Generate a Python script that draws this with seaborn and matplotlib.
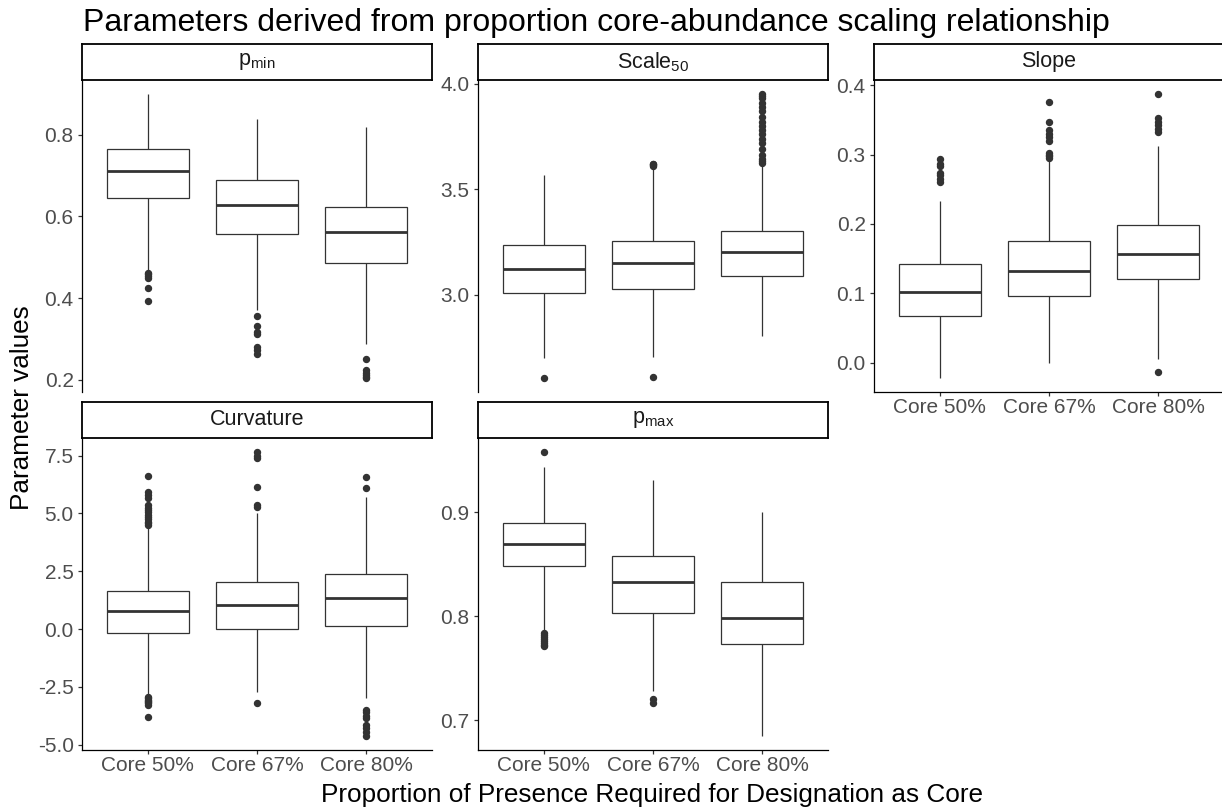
import numpy as np
import pandas as pd
import matplotlib
matplotlib.use("Agg")
import matplotlib.pyplot as plt
from matplotlib.ticker import FixedLocator, FormatStrFormatter
import seaborn as sns

# ---------------- data ----------------
groups = ["Core 50%", "Core 67%", "Core 80%"]

# five-number summaries per group: (lower whisker, Q1, median, Q3, upper whisker)
pmin_box = [(0.467, 0.644, 0.710, 0.765, 0.899),
            (0.372, 0.557, 0.629, 0.689, 0.839),
            (0.288, 0.485, 0.562, 0.624, 0.818)]
pmin_out = [[0.461, 0.458, 0.454, 0.450, 0.425, 0.394],
            [0.357, 0.332, 0.318, 0.312, 0.281, 0.272, 0.264],
            [0.252, 0.224, 0.218, 0.213, 0.208, 0.205]]

scale_box = [(2.703, 3.011, 3.125, 3.235, 3.568),
             (2.706, 3.027, 3.153, 3.255, 3.595),
             (2.806, 3.091, 3.201, 3.302, 3.610)]
scale_out = [[2.608],
             [2.611, 3.608, 3.613, 3.618, 3.620],
             [3.625, 3.635, 3.645, 3.66, 3.69, 3.72, 3.74, 3.76, 3.78, 3.80,
              3.82, 3.84, 3.87, 3.89, 3.91, 3.93, 3.94, 3.95]]

slope_box = [(-0.0217, 0.0675, 0.102, 0.143, 0.233),
             (0.000, 0.0966, 0.132, 0.175, 0.291),
             (0.006, 0.121, 0.157, 0.198, 0.313)]
slope_out = [[0.261, 0.265, 0.270, 0.274, 0.283, 0.287, 0.293],
             [0.295, 0.298, 0.300, 0.302, 0.320, 0.325, 0.330, 0.335, 0.347, 0.376],
             [-0.0126, 0.333, 0.337, 0.342, 0.347, 0.352, 0.387]]

curv_box = [(-2.85, -0.16, 0.79, 1.66, 4.38),
            (-2.72, 0.00, 1.06, 2.03, 5.01),
            (-3.00, 0.13, 1.33, 2.36, 5.70)]
curv_out = [[4.50, 4.58, 4.65, 4.75, 4.85, 4.95, 5.05, 5.15, 5.25, 5.35, 5.66, 5.80,
             5.94, 6.62, -2.95, -3.00, -3.05, -3.10, -3.15, -3.20, -3.30, -3.82],
            [-3.19, 5.30, 5.37, 6.13, 7.38, 7.48, 7.65],
            [6.11, 6.56, -3.50, -3.60, -3.75, -3.85, -4.15, -4.30, -4.45, -4.62]]

pmax_box = [(0.786, 0.848, 0.870, 0.890, 0.944),
            (0.728, 0.803, 0.833, 0.858, 0.931),
            (0.685, 0.773, 0.798, 0.833, 0.900)]
pmax_out = [[0.958, 0.784, 0.782, 0.780, 0.778, 0.776, 0.774, 0.772, 0.771],
            [0.720, 0.717],
            []]

pmin_ticks = [0.2, 0.4, 0.6, 0.8]
scale_ticks = [3.0, 3.5, 4.0]
slope_ticks = [0.0, 0.1, 0.2, 0.3, 0.4]
curv_ticks = [-5.0, -2.5, 0.0, 2.5, 5.0, 7.5]
pmax_ticks = [0.7, 0.8, 0.9]

title = "Parameters derived from proportion core-abundance scaling relationship"
xlabel = "Proportion of Presence Required for Designation as Core"
ylabel = "Parameter values"

# ---------------- style ----------------
sns.set_style("white")
plt.rcParams["font.family"] = ["Liberation Sans", "DejaVu Sans"]
plt.rcParams["mathtext.fontset"] = "custom"
plt.rcParams["mathtext.rm"] = "Liberation Sans"
plt.rcParams["mathtext.it"] = "Liberation Sans:italic"
plt.rcParams["axes.unicode_minus"] = False

W, H = 1222, 811
fig = plt.figure(figsize=(W / 100, H / 100), dpi=100)
fig.patch.set_facecolor("white")


def frac(x0, y_top, w, h):
    return [x0 / W, 1 - (y_top + h) / H, w / W, h / H]


def build_frame(boxes, outs):
    rows = []
    K = 200
    for g, b, o in zip(groups, boxes, outs):
        lo, q1, med, q3, hi = b
        vals = [lo, hi] + [q1] * K + [med] * K + [q3] * K + list(o)
        rows += [(g, v) for v in vals]
    return pd.DataFrame(rows, columns=["group", "value"])


panels = [
    (r"p$_{\mathrm{min}}$", pmin_box, pmin_out, pmin_ticks, 82, 80, False),
    (r"Scale$_{\mathrm{50}}$", scale_box, scale_out, scale_ticks, 478, 80, False),
    ("Slope", slope_box, slope_out, slope_ticks, 874, 80, True),
    ("Curvature", curv_box, curv_out, curv_ticks, 82, 438, True),
    (r"p$_{\mathrm{max}}$", pmax_box, pmax_out, pmax_ticks, 478, 438, True),
]

PW, PH, SH = 350, 312, 36.5
dark = "#333333"

for label, boxes, outs, ticks, x0, ytop, show_x in panels:
    ax = fig.add_axes(frac(x0, ytop, PW, PH))
    df = build_frame(boxes, outs)
    sns.boxplot(data=df, x="group", y="value", order=groups, ax=ax,
                color="white", linecolor=dark, linewidth=0.9, width=0.75,
                whis=1.5, showcaps=False, fliersize=4.3,
                flierprops=dict(marker="o", markerfacecolor=dark,
                                markeredgecolor=dark, markersize=4.3),
                medianprops=dict(color=dark, linewidth=2.0))
    vals = df["value"].to_numpy()
    lo, hi = vals.min(), vals.max()
    pad = 0.05 * (hi - lo)
    ax.set_ylim(lo - pad, hi + pad)
    ax.set_xlim(-0.6, 2.6)
    ax.yaxis.set_major_locator(FixedLocator(ticks))
    ax.yaxis.set_major_formatter(FormatStrFormatter("%.1f"))
    ax.set_xlabel("")
    ax.set_ylabel("")
    for s in ["top", "right"]:
        ax.spines[s].set_visible(False)
    ax.spines["left"].set_color("black")
    ax.spines["left"].set_linewidth(0.9)
    ax.tick_params(axis="y", which="both", left=True, length=3, width=0.9,
                   color=dark, labelsize=15, labelcolor="#4D4D4D", pad=3)
    if show_x:
        ax.spines["bottom"].set_color("black")
        ax.spines["bottom"].set_linewidth(0.9)
        ax.tick_params(axis="x", which="both", bottom=True, length=3, width=0.9,
                       color=dark, labelsize=15, labelcolor="#4D4D4D", pad=1.5)
    else:
        ax.spines["bottom"].set_visible(False)
        ax.tick_params(axis="x", bottom=False, labelbottom=False)
    ax.set_facecolor("white")

    # strip
    sax = fig.add_axes(frac(x0, ytop - SH, PW, SH))
    sax.set_xticks([])
    sax.set_yticks([])
    sax.set_facecolor("white")
    for s in sax.spines.values():
        s.set_visible(True)
        s.set_color("black")
        s.set_linewidth(1.3)
    sax.text(0.5, 0.5, label, ha="center", va="center", fontsize=15.5,
             color="#1A1A1A", transform=sax.transAxes)

fig.text(83 / W, 1 - 31 / H, title, ha="left", va="baseline", fontsize=23,
         color="black")
fig.text(652 / W, 1 - 795 / H, xlabel, ha="center", va="center", fontsize=18.8,
         color="black")
fig.text(22 / W, 1 - 408 / H, ylabel, ha="center", va="center", fontsize=18.8,
         rotation=90, color="black")

fig.savefig("out.png", dpi=100, facecolor="white")
